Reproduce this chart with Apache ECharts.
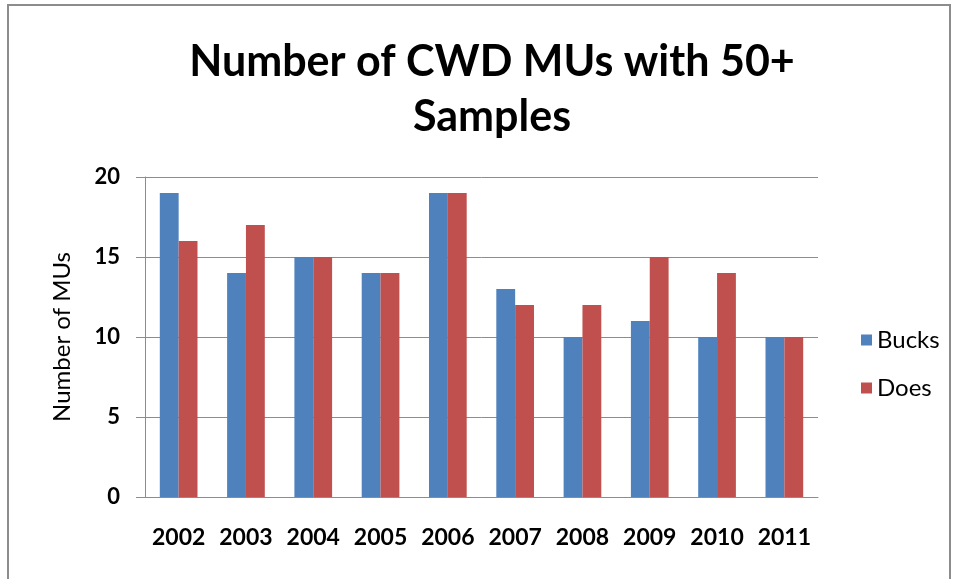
<!DOCTYPE html>
<html>
<head>
<meta charset="utf-8">
<script src="https://cdn.jsdelivr.net/npm/echarts@6/dist/echarts.min.js"></script>
<style>
html, body { margin: 0; padding: 0; background: #fff; }
#frame { position: absolute; left: 7px; top: 4px; width: 944px; height: 590px; border: 2px solid #8c8c8c; box-sizing: border-box; }
#chart { position: absolute; left: 0; top: 0; width: 957px; height: 579px; }
</style>
</head>
<body>
<div id="frame"></div>
<div id="chart"></div>
<script>
// data
var years = ['2002', '2003', '2004', '2005', '2006', '2007', '2008', '2009', '2010', '2011'];
var bucks = [19, 14, 15, 14, 19, 13, 10, 11, 10, 10];
var does = [16, 17, 15, 14, 19, 12, 12, 15, 14, 10];
var yTicks = [0, 5, 10, 15, 20];

var myChart = echarts.init(document.getElementById('chart'));
var font = 'Lato, "Open Sans", sans-serif';

var option = {
    backgroundColor: 'transparent',
    animation: false,
    title: {
        text: 'Number of CWD MUs with 50+\nSamples',
        left: 487,
        textAlign: 'center',
        top: 30,
        textStyle: {
            fontFamily: font,
            fontSize: 43,
            fontWeight: 'bold',
            color: '#000',
            lineHeight: 55
        }
    },
    legend: {
        data: ['Bucks', 'Does'],
        orient: 'vertical',
        left: 856,
        top: 323,
        itemWidth: 11,
        itemHeight: 11,
        itemGap: 24,
        icon: 'rect',
        textStyle: { fontFamily: font, fontSize: 24, color: '#000' }
    },
    grid: {
        left: 145,
        right: 139,
        top: 177,
        bottom: 82
    },
    xAxis: {
        type: 'category',
        data: years,
        axisLine: { lineStyle: { color: '#8c8c8c', width: 1 } },
        axisTick: { show: false },
        axisLabel: {
            interval: 0,
            margin: 29,
            fontFamily: font,
            fontSize: 23,
            fontWeight: 'bold',
            color: '#000'
        }
    },
    yAxis: {
        type: 'value',
        min: yTicks[0],
        max: yTicks[yTicks.length - 1],
        interval: 5,
        name: 'Number of MUs',
        nameLocation: 'middle',
        nameGap: 71,
        nameTextStyle: { fontFamily: font, fontSize: 24, color: '#000' },
        axisLine: { show: true, lineStyle: { color: '#8c8c8c', width: 1 } },
        axisTick: { show: true, length: 9, lineStyle: { color: '#8c8c8c' } },
        splitLine: { lineStyle: { color: '#8c8c8c', width: 1 } },
        axisLabel: {
            margin: 25,
            fontFamily: font,
            fontSize: 22,
            fontWeight: 'bold',
            color: '#000'
        }
    },
    series: [
        {
            name: 'Bucks',
            type: 'bar',
            data: bucks,
            barWidth: '28%',
            barGap: '0%',
            itemStyle: { color: '#4F81BD' }
        },
        {
            name: 'Does',
            type: 'bar',
            data: does,
            barWidth: '28%',
            itemStyle: { color: '#C0504D' }
        }
    ]
};

myChart.setOption(option);
</script>
</body>
</html>
